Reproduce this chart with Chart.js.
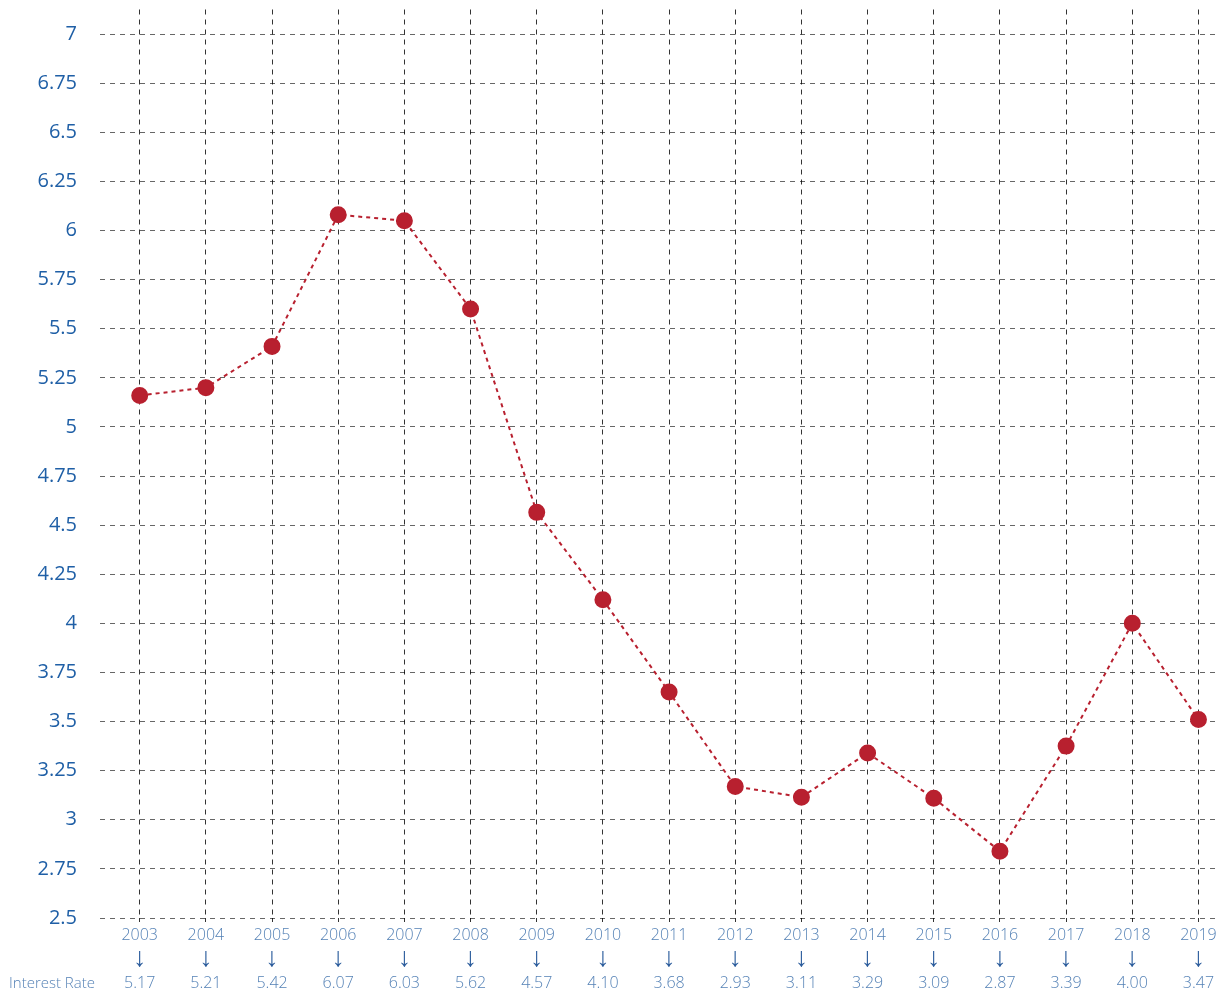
<!DOCTYPE html>
<html>
<head>
<meta charset="utf-8">
<script src="https://cdn.jsdelivr.net/npm/chart.js@4"></script>
<style>
  html, body { margin: 0; padding: 0; background: #fff; }
  #wrap { width: 1225px; height: 993px; }
</style>
</head>
<body>
<div id="wrap"><canvas id="myChart" width="1225" height="993"></canvas></div>
<script>
let years = [2003, 2004, 2005, 2006, 2007, 2008, 2009, 2010, 2011, 2012, 2013, 2014, 2015, 2016, 2017, 2018, 2019];
let rates = [5.16, 5.20, 5.41, 6.08, 6.05, 5.60, 4.565, 4.12, 3.65, 3.17, 3.115, 3.34, 3.11, 2.84, 3.375, 4.00, 3.51];
let rateLabels = ['5.17', '5.21', '5.42', '6.07', '6.03', '5.62', '4.57', '4.10', '3.68', '2.93', '3.11', '3.29', '3.09', '2.87', '3.39', '4.00', '3.47'];
let yTicks = [2.5, 2.75, 3, 3.25, 3.5, 3.75, 4, 4.25, 4.5, 4.75, 5, 5.25, 5.5, 5.75, 6, 6.25, 6.5, 6.75, 7];

let red = '#b8202f';
let labelBlue = '#5582b6';
let arrowBlue = '#2b5c9c';
let axisBlue = '#1f5fa6';
let fontFamily = "'Open Sans', 'Noto Sans', sans-serif";
let rowHeight = 24;

// "Interest Rate" caption and the arrows between the two label rows
let labelRows = {
  id: 'labelRows',
  afterDraw(chart) {
    let c = chart.ctx;
    let xs = chart.scales.x;
    let rowTop = xs.top + 5;
    c.save();
    c.textBaseline = 'middle';
    c.font = '300 15px ' + fontFamily;
    c.fillStyle = labelBlue;
    c.textAlign = 'left';
    c.fillText('Interest Rate', 9, rowTop + rowHeight * 2 + 13);
    c.font = '27px "Liberation Sans", sans-serif';
    c.fillStyle = arrowBlue;
    c.textAlign = 'center';
    years.forEach((y) => {
      c.fillText('↓', xs.getPixelForValue(y), rowTop + rowHeight + 12);
    });
    c.restore();
  }
};

let ctx = document.getElementById('myChart').getContext('2d');

let myChart = new Chart(ctx, {
  type: 'line',
  data: {
    datasets: [{
      data: years.map((y, i) => ({ x: y, y: rates[i] })),
      borderColor: red,
      borderWidth: 2,
      borderDash: [4, 4],
      pointBackgroundColor: red,
      pointBorderColor: red,
      pointRadius: 7.5,
      pointHoverRadius: 7.5,
      tension: 0
    }]
  },
  plugins: [labelRows],
  options: {
    responsive: false,
    animation: false,
    layout: { padding: { top: 9, right: 10, left: 0, bottom: 0 } },
    plugins: {
      legend: { display: false },
      tooltip: { enabled: false }
    },
    scales: {
      x: {
        type: 'linear',
        min: 2002.4,
        max: 2019.25,
        afterBuildTicks: (scale) => { scale.ticks = years.map(v => ({ value: v })); },
        afterFit: (scale) => {
          scale.height = 75;
          scale.paddingLeft = 0;
          scale.paddingRight = 0;
        },
        border: { display: false, dash: [5, 5] },
        grid: {
          color: 'rgba(0,0,0,0.8)',
          lineWidth: 1,
          tickLength: 4,
          tickBorderDash: [5, 5]
        },
        ticks: {
          autoSkip: false,
          maxRotation: 0,
          padding: 1,
          color: labelBlue,
          font: { family: fontFamily, size: 16, weight: 300, lineHeight: 1.5 },
          callback: (v, i) => [String(years[i]), '', rateLabels[i]]
        }
      },
      y: {
        min: 2.5,
        max: 7.125,
        afterBuildTicks: (scale) => { scale.ticks = yTicks.map(v => ({ value: v })); },
        afterFit: (scale) => {
          scale.width = 100;
          scale.paddingTop = 0;
          scale.paddingBottom = 0;
        },
        border: { display: false, dash: [5, 5] },
        grid: {
          color: 'rgba(0,0,0,0.6)',
          lineWidth: 1,
          drawTicks: false
        },
        ticks: {
          padding: 23,
          color: axisBlue,
          font: { family: fontFamily, size: 20 },
          callback: (v) => String(v)
        }
      }
    }
  }
});
</script>
</body>
</html>
